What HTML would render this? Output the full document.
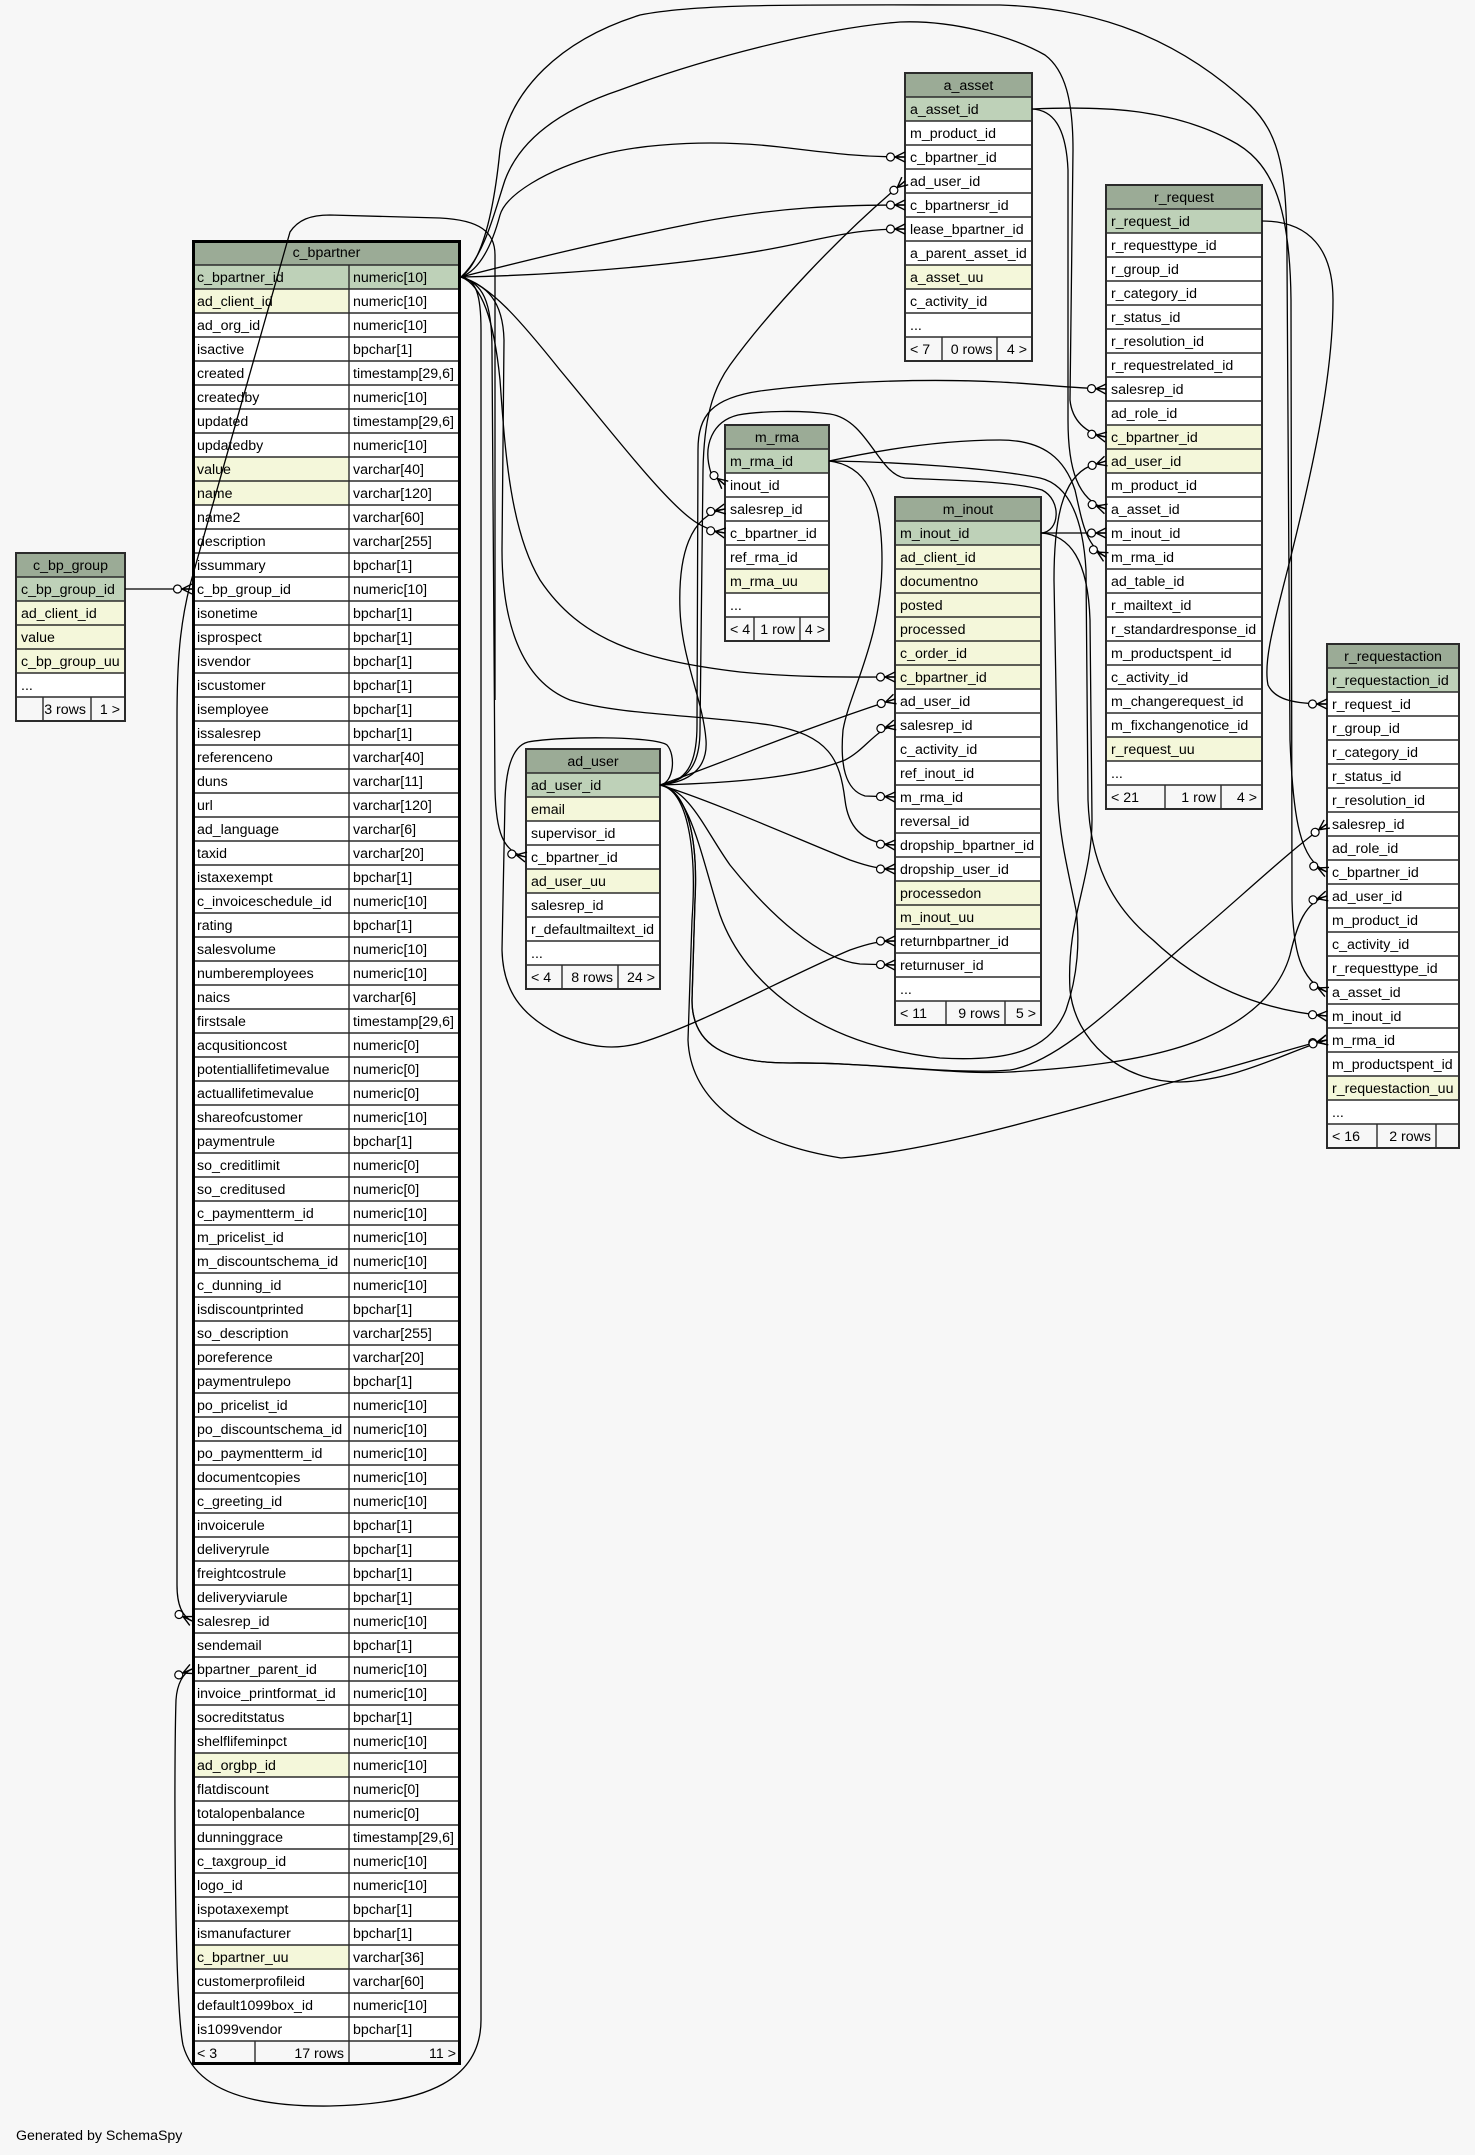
<!DOCTYPE html>
<html><head><meta charset="utf-8"><style>
html,body{margin:0;padding:0;background:#f7f7f7;width:1475px;height:2155px;overflow:hidden}
svg{display:block}
text{font-family:"Liberation Sans",Arial,sans-serif;font-size:14.2px;fill:#000}
.ln{stroke:#2b2b2b;stroke-width:1.4;fill:none}
.ob{fill:none;stroke:#2b2b2b;stroke-width:2}
.e{fill:none;stroke:#000;stroke-width:1.3}
.hd{fill:#9bab96}.pk{fill:#bed1b8}.ix{fill:#f4f7da}.ft{fill:#f7f7f7}.bd{fill:#fff}
</style></head><body>
<svg width="1475" height="2155" viewBox="0 0 1475 2155" xmlns="http://www.w3.org/2000/svg">
<defs>
<marker id="cf" viewBox="-20 -8 22 16" refX="0" refY="0" markerWidth="22" markerHeight="16" markerUnits="userSpaceOnUse" orient="auto" overflow="visible">
<path d="M-10,0L0,-5M-10,0L0,0M-10,0L0,5" stroke="#000" stroke-width="1.4" fill="none"/>
<circle cx="-14.5" cy="0" r="4" fill="#fff" stroke="#000" stroke-width="1.2"/>
</marker>
</defs>
<rect width="1475" height="2155" fill="#f7f7f7"/>

<!-- ===== c_bp_group ===== -->
<g>
<rect x="16" y="553" width="109" height="168" class="bd"/>
<rect x="16" y="553" width="109" height="24" class="hd"/>
<rect x="16" y="577" width="109" height="24" class="pk"/>
<rect x="16" y="601" width="109" height="72" class="ix"/>
<rect x="16" y="697" width="109" height="24" class="ft"/>
<path class="ln" d="M16,577h109m-109,24h109m-109,24h109m-109,24h109m-109,24h109m-109,24h109"/>
<path class="ln" d="M43,697v24M91,697v24"/>
<rect x="16" y="553" width="109" height="168" class="ob"/>
<text x="70.5" y="570" text-anchor="middle">c_bp_group</text>
<text x="21" y="594">c_bp_group_id</text>
<text x="21" y="618">ad_client_id</text>
<text x="21" y="642">value</text>
<text x="21" y="666">c_bp_group_uu</text>
<text x="21" y="690">...</text>
<text x="86" y="714" text-anchor="end">3 rows</text>
<text x="120" y="714" text-anchor="end">1 &gt;</text>
</g>

<!-- ===== c_bpartner ===== -->
<g>
<rect x="192" y="240" width="269" height="1825" class="bd"/>
<rect x="192" y="240" width="269" height="25" class="hd"/>
<rect x="192" y="265" width="269" height="24" class="pk"/>
<rect x="192" y="289" width="157" height="24" class="ix"/>
<rect x="192" y="457" width="157" height="48" class="ix"/>
<rect x="192" y="1753" width="157" height="24" class="ix"/>
<rect x="192" y="1945" width="157" height="24" class="ix"/>
<rect x="192" y="2041" width="269" height="24" class="ft"/>
<path class="ln" d="M192,265h269
m-269,24h269m-269,24h269m-269,24h269m-269,24h269m-269,24h269m-269,24h269m-269,24h269m-269,24h269m-269,24h269m-269,24h269
m-269,24h269m-269,24h269m-269,24h269m-269,24h269m-269,24h269m-269,24h269m-269,24h269m-269,24h269m-269,24h269m-269,24h269
m-269,24h269m-269,24h269m-269,24h269m-269,24h269m-269,24h269m-269,24h269m-269,24h269m-269,24h269m-269,24h269m-269,24h269
m-269,24h269m-269,24h269m-269,24h269m-269,24h269m-269,24h269m-269,24h269m-269,24h269m-269,24h269m-269,24h269m-269,24h269
m-269,24h269m-269,24h269m-269,24h269m-269,24h269m-269,24h269m-269,24h269m-269,24h269m-269,24h269m-269,24h269m-269,24h269
m-269,24h269m-269,24h269m-269,24h269m-269,24h269m-269,24h269m-269,24h269m-269,24h269m-269,24h269m-269,24h269m-269,24h269
m-269,24h269m-269,24h269m-269,24h269m-269,24h269m-269,24h269m-269,24h269m-269,24h269m-269,24h269m-269,24h269m-269,24h269
m-269,24h269m-269,24h269m-269,24h269m-269,24h269"/>
<path class="ln" d="M349,265V2065M255,2041v24"/>
<rect x="193.5" y="241.5" width="266" height="1822" fill="none" stroke="#000" stroke-width="3"/>
<text x="326.5" y="257" text-anchor="middle">c_bpartner</text>
<text x="197" y="282">c_bpartner_id</text><text x="353" y="282">numeric[10]</text>
<text x="197" y="306">ad_client_id</text><text x="353" y="306">numeric[10]</text>
<text x="197" y="330">ad_org_id</text><text x="353" y="330">numeric[10]</text>
<text x="197" y="354">isactive</text><text x="353" y="354">bpchar[1]</text>
<text x="197" y="378">created</text><text x="353" y="378">timestamp[29,6]</text>
<text x="197" y="402">createdby</text><text x="353" y="402">numeric[10]</text>
<text x="197" y="426">updated</text><text x="353" y="426">timestamp[29,6]</text>
<text x="197" y="450">updatedby</text><text x="353" y="450">numeric[10]</text>
<text x="197" y="474">value</text><text x="353" y="474">varchar[40]</text>
<text x="197" y="498">name</text><text x="353" y="498">varchar[120]</text>
<text x="197" y="522">name2</text><text x="353" y="522">varchar[60]</text>
<text x="197" y="546">description</text><text x="353" y="546">varchar[255]</text>
<text x="197" y="570">issummary</text><text x="353" y="570">bpchar[1]</text>
<text x="197" y="594">c_bp_group_id</text><text x="353" y="594">numeric[10]</text>
<text x="197" y="618">isonetime</text><text x="353" y="618">bpchar[1]</text>
<text x="197" y="642">isprospect</text><text x="353" y="642">bpchar[1]</text>
<text x="197" y="666">isvendor</text><text x="353" y="666">bpchar[1]</text>
<text x="197" y="690">iscustomer</text><text x="353" y="690">bpchar[1]</text>
<text x="197" y="714">isemployee</text><text x="353" y="714">bpchar[1]</text>
<text x="197" y="738">issalesrep</text><text x="353" y="738">bpchar[1]</text>
<text x="197" y="762">referenceno</text><text x="353" y="762">varchar[40]</text>
<text x="197" y="786">duns</text><text x="353" y="786">varchar[11]</text>
<text x="197" y="810">url</text><text x="353" y="810">varchar[120]</text>
<text x="197" y="834">ad_language</text><text x="353" y="834">varchar[6]</text>
<text x="197" y="858">taxid</text><text x="353" y="858">varchar[20]</text>
<text x="197" y="882">istaxexempt</text><text x="353" y="882">bpchar[1]</text>
<text x="197" y="906">c_invoiceschedule_id</text><text x="353" y="906">numeric[10]</text>
<text x="197" y="930">rating</text><text x="353" y="930">bpchar[1]</text>
<text x="197" y="954">salesvolume</text><text x="353" y="954">numeric[10]</text>
<text x="197" y="978">numberemployees</text><text x="353" y="978">numeric[10]</text>
<text x="197" y="1002">naics</text><text x="353" y="1002">varchar[6]</text>
<text x="197" y="1026">firstsale</text><text x="353" y="1026">timestamp[29,6]</text>
<text x="197" y="1050">acqusitioncost</text><text x="353" y="1050">numeric[0]</text>
<text x="197" y="1074">potentiallifetimevalue</text><text x="353" y="1074">numeric[0]</text>
<text x="197" y="1098">actuallifetimevalue</text><text x="353" y="1098">numeric[0]</text>
<text x="197" y="1122">shareofcustomer</text><text x="353" y="1122">numeric[10]</text>
<text x="197" y="1146">paymentrule</text><text x="353" y="1146">bpchar[1]</text>
<text x="197" y="1170">so_creditlimit</text><text x="353" y="1170">numeric[0]</text>
<text x="197" y="1194">so_creditused</text><text x="353" y="1194">numeric[0]</text>
<text x="197" y="1218">c_paymentterm_id</text><text x="353" y="1218">numeric[10]</text>
<text x="197" y="1242">m_pricelist_id</text><text x="353" y="1242">numeric[10]</text>
<text x="197" y="1266">m_discountschema_id</text><text x="353" y="1266">numeric[10]</text>
<text x="197" y="1290">c_dunning_id</text><text x="353" y="1290">numeric[10]</text>
<text x="197" y="1314">isdiscountprinted</text><text x="353" y="1314">bpchar[1]</text>
<text x="197" y="1338">so_description</text><text x="353" y="1338">varchar[255]</text>
<text x="197" y="1362">poreference</text><text x="353" y="1362">varchar[20]</text>
<text x="197" y="1386">paymentrulepo</text><text x="353" y="1386">bpchar[1]</text>
<text x="197" y="1410">po_pricelist_id</text><text x="353" y="1410">numeric[10]</text>
<text x="197" y="1434">po_discountschema_id</text><text x="353" y="1434">numeric[10]</text>
<text x="197" y="1458">po_paymentterm_id</text><text x="353" y="1458">numeric[10]</text>
<text x="197" y="1482">documentcopies</text><text x="353" y="1482">numeric[10]</text>
<text x="197" y="1506">c_greeting_id</text><text x="353" y="1506">numeric[10]</text>
<text x="197" y="1530">invoicerule</text><text x="353" y="1530">bpchar[1]</text>
<text x="197" y="1554">deliveryrule</text><text x="353" y="1554">bpchar[1]</text>
<text x="197" y="1578">freightcostrule</text><text x="353" y="1578">bpchar[1]</text>
<text x="197" y="1602">deliveryviarule</text><text x="353" y="1602">bpchar[1]</text>
<text x="197" y="1626">salesrep_id</text><text x="353" y="1626">numeric[10]</text>
<text x="197" y="1650">sendemail</text><text x="353" y="1650">bpchar[1]</text>
<text x="197" y="1674">bpartner_parent_id</text><text x="353" y="1674">numeric[10]</text>
<text x="197" y="1698">invoice_printformat_id</text><text x="353" y="1698">numeric[10]</text>
<text x="197" y="1722">socreditstatus</text><text x="353" y="1722">bpchar[1]</text>
<text x="197" y="1746">shelflifeminpct</text><text x="353" y="1746">numeric[10]</text>
<text x="197" y="1770">ad_orgbp_id</text><text x="353" y="1770">numeric[10]</text>
<text x="197" y="1794">flatdiscount</text><text x="353" y="1794">numeric[0]</text>
<text x="197" y="1818">totalopenbalance</text><text x="353" y="1818">numeric[0]</text>
<text x="197" y="1842">dunninggrace</text><text x="353" y="1842">timestamp[29,6]</text>
<text x="197" y="1866">c_taxgroup_id</text><text x="353" y="1866">numeric[10]</text>
<text x="197" y="1890">logo_id</text><text x="353" y="1890">numeric[10]</text>
<text x="197" y="1914">ispotaxexempt</text><text x="353" y="1914">bpchar[1]</text>
<text x="197" y="1938">ismanufacturer</text><text x="353" y="1938">bpchar[1]</text>
<text x="197" y="1962">c_bpartner_uu</text><text x="353" y="1962">varchar[36]</text>
<text x="197" y="1986">customerprofileid</text><text x="353" y="1986">varchar[60]</text>
<text x="197" y="2010">default1099box_id</text><text x="353" y="2010">numeric[10]</text>
<text x="197" y="2034">is1099vendor</text><text x="353" y="2034">bpchar[1]</text>
<text x="197" y="2058">&lt; 3</text>
<text x="344" y="2058" text-anchor="end">17 rows</text>
<text x="456" y="2058" text-anchor="end">11 &gt;</text>
</g>

<!-- ===== a_asset ===== -->
<g>
<rect x="905" y="73" width="127" height="288" class="bd"/>
<rect x="905" y="73" width="127" height="24" class="hd"/>
<rect x="905" y="97" width="127" height="24" class="pk"/>
<rect x="905" y="265" width="127" height="24" class="ix"/>
<rect x="905" y="337" width="127" height="24" class="ft"/>
<path class="ln" d="M905,97h127
m-127,24h127m-127,24h127m-127,24h127m-127,24h127m-127,24h127m-127,24h127m-127,24h127m-127,24h127m-127,24h127m-127,24h127"/>
<path class="ln" d="M942,337v24M997,337v24"/>
<rect x="905" y="73" width="127" height="288" class="ob"/>
<text x="968.5" y="90" text-anchor="middle">a_asset</text>
<text x="910" y="114">a_asset_id</text>
<text x="910" y="138">m_product_id</text>
<text x="910" y="162">c_bpartner_id</text>
<text x="910" y="186">ad_user_id</text>
<text x="910" y="210">c_bpartnersr_id</text>
<text x="910" y="234">lease_bpartner_id</text>
<text x="910" y="258">a_parent_asset_id</text>
<text x="910" y="282">a_asset_uu</text>
<text x="910" y="306">c_activity_id</text>
<text x="910" y="330">...</text>
<text x="910" y="354">&lt; 7</text>
<text x="992.5" y="354" text-anchor="end">0 rows</text>
<text x="1027" y="354" text-anchor="end">4 &gt;</text>
</g>

<!-- ===== r_request ===== -->
<g>
<rect x="1106" y="185" width="156" height="624" class="bd"/>
<rect x="1106" y="185" width="156" height="24" class="hd"/>
<rect x="1106" y="209" width="156" height="24" class="pk"/>
<rect x="1106" y="425" width="156" height="48" class="ix"/>
<rect x="1106" y="737" width="156" height="24" class="ix"/>
<rect x="1106" y="785" width="156" height="24" class="ft"/>
<path class="ln" d="M1106,209h156
m-156,24h156m-156,24h156m-156,24h156m-156,24h156m-156,24h156m-156,24h156m-156,24h156m-156,24h156m-156,24h156m-156,24h156
m-156,24h156m-156,24h156m-156,24h156m-156,24h156m-156,24h156m-156,24h156m-156,24h156m-156,24h156m-156,24h156m-156,24h156
m-156,24h156m-156,24h156m-156,24h156m-156,24h156"/>
<path class="ln" d="M1165,785v24M1221,785v24"/>
<rect x="1106" y="185" width="156" height="624" class="ob"/>
<text x="1184" y="202" text-anchor="middle">r_request</text>
<text x="1111" y="226">r_request_id</text>
<text x="1111" y="250">r_requesttype_id</text>
<text x="1111" y="274">r_group_id</text>
<text x="1111" y="298">r_category_id</text>
<text x="1111" y="322">r_status_id</text>
<text x="1111" y="346">r_resolution_id</text>
<text x="1111" y="370">r_requestrelated_id</text>
<text x="1111" y="394">salesrep_id</text>
<text x="1111" y="418">ad_role_id</text>
<text x="1111" y="442">c_bpartner_id</text>
<text x="1111" y="466">ad_user_id</text>
<text x="1111" y="490">m_product_id</text>
<text x="1111" y="514">a_asset_id</text>
<text x="1111" y="538">m_inout_id</text>
<text x="1111" y="562">m_rma_id</text>
<text x="1111" y="586">ad_table_id</text>
<text x="1111" y="610">r_mailtext_id</text>
<text x="1111" y="634">r_standardresponse_id</text>
<text x="1111" y="658">m_productspent_id</text>
<text x="1111" y="682">c_activity_id</text>
<text x="1111" y="706">m_changerequest_id</text>
<text x="1111" y="730">m_fixchangenotice_id</text>
<text x="1111" y="754">r_request_uu</text>
<text x="1111" y="778">...</text>
<text x="1111" y="802">&lt; 21</text>
<text x="1216" y="802" text-anchor="end">1 row</text>
<text x="1257" y="802" text-anchor="end">4 &gt;</text>
</g>

<!-- ===== m_rma ===== -->
<g>
<rect x="725" y="425" width="104" height="216" class="bd"/>
<rect x="725" y="425" width="104" height="24" class="hd"/>
<rect x="725" y="449" width="104" height="24" class="pk"/>
<rect x="725" y="569" width="104" height="24" class="ix"/>
<rect x="725" y="617" width="104" height="24" class="ft"/>
<path class="ln" d="M725,449h104
m-104,24h104m-104,24h104m-104,24h104m-104,24h104m-104,24h104m-104,24h104m-104,24h104"/>
<path class="ln" d="M754,617v24M800,617v24"/>
<rect x="725" y="425" width="104" height="216" class="ob"/>
<text x="777" y="442" text-anchor="middle">m_rma</text>
<text x="730" y="466">m_rma_id</text>
<text x="730" y="490">inout_id</text>
<text x="730" y="514">salesrep_id</text>
<text x="730" y="538">c_bpartner_id</text>
<text x="730" y="562">ref_rma_id</text>
<text x="730" y="586">m_rma_uu</text>
<text x="730" y="610">...</text>
<text x="730" y="634">&lt; 4</text>
<text x="795" y="634" text-anchor="end">1 row</text>
<text x="825" y="634" text-anchor="end">4 &gt;</text>
</g>

<!-- ===== m_inout ===== -->
<g>
<rect x="895" y="497" width="146" height="528" class="bd"/>
<rect x="895" y="497" width="146" height="24" class="hd"/>
<rect x="895" y="521" width="146" height="24" class="pk"/>
<rect x="895" y="545" width="146" height="144" class="ix"/>
<rect x="895" y="881" width="146" height="48" class="ix"/>
<rect x="895" y="1001" width="146" height="24" class="ft"/>
<path class="ln" d="M895,521h146
m-146,24h146m-146,24h146m-146,24h146m-146,24h146m-146,24h146m-146,24h146m-146,24h146m-146,24h146m-146,24h146m-146,24h146
m-146,24h146m-146,24h146m-146,24h146m-146,24h146m-146,24h146m-146,24h146m-146,24h146m-146,24h146m-146,24h146m-146,24h146"/>
<path class="ln" d="M946,1001v24M1005,1001v24"/>
<rect x="895" y="497" width="146" height="528" class="ob"/>
<text x="968" y="514" text-anchor="middle">m_inout</text>
<text x="900" y="538">m_inout_id</text>
<text x="900" y="562">ad_client_id</text>
<text x="900" y="586">documentno</text>
<text x="900" y="610">posted</text>
<text x="900" y="634">processed</text>
<text x="900" y="658">c_order_id</text>
<text x="900" y="682">c_bpartner_id</text>
<text x="900" y="706">ad_user_id</text>
<text x="900" y="730">salesrep_id</text>
<text x="900" y="754">c_activity_id</text>
<text x="900" y="778">ref_inout_id</text>
<text x="900" y="802">m_rma_id</text>
<text x="900" y="826">reversal_id</text>
<text x="900" y="850">dropship_bpartner_id</text>
<text x="900" y="874">dropship_user_id</text>
<text x="900" y="898">processedon</text>
<text x="900" y="922">m_inout_uu</text>
<text x="900" y="946">returnbpartner_id</text>
<text x="900" y="970">returnuser_id</text>
<text x="900" y="994">...</text>
<text x="900" y="1018">&lt; 11</text>
<text x="1000" y="1018" text-anchor="end">9 rows</text>
<text x="1036" y="1018" text-anchor="end">5 &gt;</text>
</g>

<!-- ===== ad_user ===== -->
<g>
<rect x="526" y="749" width="134" height="240" class="bd"/>
<rect x="526" y="749" width="134" height="24" class="hd"/>
<rect x="526" y="773" width="134" height="24" class="pk"/>
<rect x="526" y="797" width="134" height="24" class="ix"/>
<rect x="526" y="869" width="134" height="24" class="ix"/>
<rect x="526" y="965" width="134" height="24" class="ft"/>
<path class="ln" d="M526,773h134
m-134,24h134m-134,24h134m-134,24h134m-134,24h134m-134,24h134m-134,24h134m-134,24h134m-134,24h134"/>
<path class="ln" d="M562,965v24M618,965v24"/>
<rect x="526" y="749" width="134" height="240" class="ob"/>
<text x="593" y="766" text-anchor="middle">ad_user</text>
<text x="531" y="790">ad_user_id</text>
<text x="531" y="814">email</text>
<text x="531" y="838">supervisor_id</text>
<text x="531" y="862">c_bpartner_id</text>
<text x="531" y="886">ad_user_uu</text>
<text x="531" y="910">salesrep_id</text>
<text x="531" y="934">r_defaultmailtext_id</text>
<text x="531" y="958">...</text>
<text x="531" y="982">&lt; 4</text>
<text x="613" y="982" text-anchor="end">8 rows</text>
<text x="655" y="982" text-anchor="end">24 &gt;</text>
</g>

<!-- ===== r_requestaction ===== -->
<g>
<rect x="1327" y="644" width="132" height="504" class="bd"/>
<rect x="1327" y="644" width="132" height="24" class="hd"/>
<rect x="1327" y="668" width="132" height="24" class="pk"/>
<rect x="1327" y="1076" width="132" height="24" class="ix"/>
<rect x="1327" y="1124" width="132" height="24" class="ft"/>
<path class="ln" d="M1327,668h132
m-132,24h132m-132,24h132m-132,24h132m-132,24h132m-132,24h132m-132,24h132m-132,24h132m-132,24h132m-132,24h132m-132,24h132
m-132,24h132m-132,24h132m-132,24h132m-132,24h132m-132,24h132m-132,24h132m-132,24h132m-132,24h132m-132,24h132"/>
<path class="ln" d="M1377,1124v24M1436,1124v24"/>
<rect x="1327" y="644" width="132" height="504" class="ob"/>
<text x="1393" y="661" text-anchor="middle">r_requestaction</text>
<text x="1332" y="685">r_requestaction_id</text>
<text x="1332" y="709">r_request_id</text>
<text x="1332" y="733">r_group_id</text>
<text x="1332" y="757">r_category_id</text>
<text x="1332" y="781">r_status_id</text>
<text x="1332" y="805">r_resolution_id</text>
<text x="1332" y="829">salesrep_id</text>
<text x="1332" y="853">ad_role_id</text>
<text x="1332" y="877">c_bpartner_id</text>
<text x="1332" y="901">ad_user_id</text>
<text x="1332" y="925">m_product_id</text>
<text x="1332" y="949">c_activity_id</text>
<text x="1332" y="973">r_requesttype_id</text>
<text x="1332" y="997">a_asset_id</text>
<text x="1332" y="1021">m_inout_id</text>
<text x="1332" y="1045">m_rma_id</text>
<text x="1332" y="1069">m_productspent_id</text>
<text x="1332" y="1093">r_requestaction_uu</text>
<text x="1332" y="1117">...</text>
<text x="1332" y="1141">&lt; 16</text>
<text x="1431" y="1141" text-anchor="end">2 rows</text>
</g>

<!-- ===== edges ===== -->
<g class="e">
<path marker-end="url(#cf)" d="M125,589 L192,589"/>
<path marker-end="url(#cf)" d="M461,277 C476,279 481,295 481,330 L481,2020 C481,2078 430,2104 330,2106 C250,2107 195,2090 183,2045 C174,2000 174,1760 176,1700 C177,1684 183,1673 192,1669"/>
<path marker-end="url(#cf)" d="M495,700 L495,255 C495,232 480,220 440,218 L330,215 C310,215 298,220 290,232 L190,585 C180,625 177,660 177,720 L177,1585 C177,1605 182,1616 192,1621"/>
<path marker-end="url(#cf)" d="M461,277 C480,270 492,245 500,215 C506,195 545,170 600,155 C650,142 720,140 780,147 C830,153 860,157 905,157"/>
<path marker-end="url(#cf)" d="M461,277 C520,262 600,242 700,222 C780,207 840,205 905,205"/>
<path marker-end="url(#cf)" d="M461,277 C560,275 700,265 800,243 C850,232 870,229 905,229"/>
<path marker-end="url(#cf)" d="M461,277 C485,260 495,200 500,150 C510,90 560,40 640,15 C700,3 800,5 1000,5 C1100,8 1180,40 1250,105 C1280,135 1287,170 1287,260 L1290,740 C1293,820 1300,860 1327,872"/>
<path marker-end="url(#cf)" d="M461,277 C485,255 495,210 505,180 C520,140 560,110 620,90 C700,60 820,28 900,22 C950,20 1010,35 1045,55 C1065,70 1073,100 1073,150 L1070,400 C1072,420 1085,433 1106,437"/>
<path marker-end="url(#cf)" d="M461,277 C490,285 520,320 560,370 C610,430 660,495 690,518 C700,526 712,531 725,533"/>
<path marker-end="url(#cf)" d="M461,277 C482,285 494,320 500,380 C505,450 510,530 540,580 C580,640 640,660 740,672 C800,678 860,677 895,677"/>
<path marker-end="url(#cf)" d="M461,277 C486,285 503,300 504,340 L502,550 C502,620 520,680 570,700 C620,715 700,715 770,725 C830,735 840,760 845,800 C848,825 860,843 895,845"/>
<path marker-end="url(#cf)" d="M461,277 C482,283 492,300 492,350 L495,790 C496,830 502,852 526,857"/>
<path marker-end="url(#cf)" d="M660,785 C674,783 676,755 667,745 C655,736 560,736 528,742 C512,746 506,770 505,800 L502,950 C503,990 520,1015 560,1035 C590,1048 615,1050 640,1043 C700,1025 790,975 850,950 C870,943 880,941 895,941"/>
<path marker-end="url(#cf)" d="M660,785 C688,781 700,765 700,730 L703,470 C704,420 712,390 730,365 C770,310 840,235 905,181"/>
<path marker-end="url(#cf)" d="M660,785 C686,782 697,765 697,725 L698,450 C698,415 712,398 760,391 C830,382 920,378 1000,382 C1040,384 1070,388 1106,389"/>
<path marker-end="url(#cf)" d="M660,785 C690,782 708,768 706,740 C703,700 682,660 680,610 C678,555 690,515 725,509"/>
<path marker-end="url(#cf)" d="M660,785 C730,760 800,730 895,699"/>
<path marker-end="url(#cf)" d="M660,785 C730,783 800,778 845,760 C865,750 875,730 895,725"/>
<path marker-end="url(#cf)" d="M660,785 C710,800 800,840 850,860 C870,867 880,869 895,869"/>
<path marker-end="url(#cf)" d="M660,785 C690,790 705,830 730,865 C770,915 820,960 860,964 L895,965"/>
<path marker-end="url(#cf)" d="M660,785 C690,790 702,860 720,915 C745,985 820,1045 940,1058 C1010,1062 1050,1050 1066,1010 C1078,975 1080,940 1076,910 C1068,870 1060,840 1058,800 L1054,580 C1054,520 1062,478 1090,466 L1106,461"/>
<path marker-end="url(#cf)" d="M660,785 C688,790 698,840 695,900 L692,1000 C692,1045 725,1063 790,1063 C870,1062 950,1075 1010,1070 C1060,1062 1120,1000 1190,940 C1240,898 1290,850 1327,824"/>
<path marker-end="url(#cf)" d="M660,785 C688,790 697,850 692,920 L688,1040 C690,1090 730,1140 841,1158 C950,1150 1100,1100 1200,1075 C1260,1060 1300,1045 1327,1040"/>
<path marker-end="url(#cf)" d="M660,785 C688,790 698,840 695,900 L692,1000 C692,1045 725,1063 790,1063 C870,1062 950,1075 1010,1072 C1080,1068 1150,1060 1200,1040 C1250,1020 1280,990 1290,955 C1297,925 1305,902 1327,896"/>
<path marker-end="url(#cf)" d="M829,461 C865,465 882,495 882,560 C882,640 850,690 843,730 C840,765 845,790 865,796 L895,797"/>
<path marker-end="url(#cf)" d="M829,461 C880,450 940,440 1000,440 C1045,440 1065,460 1075,490 C1082,520 1085,545 1106,557"/>
<path marker-end="url(#cf)" d="M829,461 C900,462 990,468 1040,478 C1070,485 1083,520 1086,570 L1088,800 C1090,860 1110,905 1153,940 C1200,985 1260,1010 1327,1016"/>
<path marker-end="url(#cf)" d="M1041,533 L1106,533"/>
<path marker-end="url(#cf)" d="M1041,533 C1060,532 1062,500 1042,490 C1010,480 930,480 905,478 C878,474 868,420 830,414 C800,410 760,411 738,415 C713,421 702,445 711,473 L725,485"/>
<path marker-end="url(#cf)" d="M1041,533 C1070,535 1088,560 1090,620 L1092,820 C1092,880 1066,920 1070,990 C1075,1040 1120,1082 1180,1082 C1240,1080 1290,1050 1327,1040"/>
<path marker-end="url(#cf)" d="M1032,109 C1052,110 1066,125 1068,170 L1068,420 C1068,470 1078,500 1106,509"/>
<path marker-end="url(#cf)" d="M1032,109 C1100,106 1170,108 1230,140 C1270,160 1290,200 1291,300 L1292,900 C1293,950 1300,980 1327,992"/>
<path marker-end="url(#cf)" d="M1262,221 C1310,221 1333,250 1333,300 C1333,380 1310,480 1290,560 C1275,620 1263,660 1268,685 C1275,700 1295,704 1327,704"/>
</g>

<text x="16" y="2140">Generated by SchemaSpy</text>
</svg>
</body></html>
